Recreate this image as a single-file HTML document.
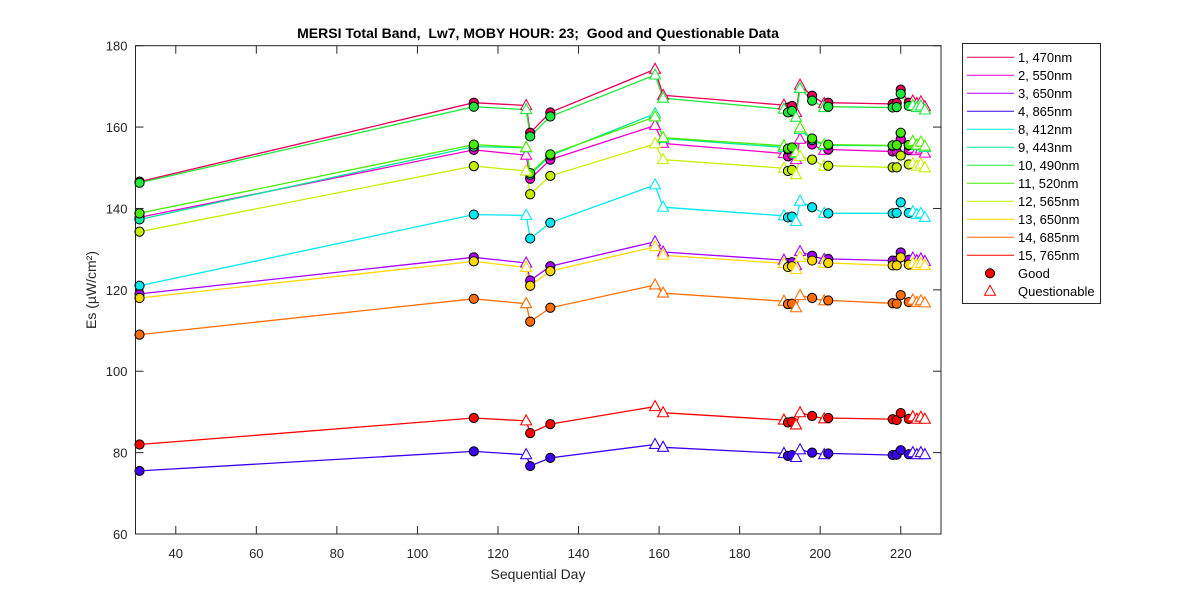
<!DOCTYPE html>
<html><head><meta charset="utf-8">
<style>
body{margin:0;background:#fff;}
svg{display:block;font-family:"Liberation Sans",Arial,sans-serif;}
</style></head>
<body>
<svg id="chart" width="1200" height="600">
<rect width="1200" height="600" fill="#fff"/>
<g id="plot"></g>
<g id="axes"></g>
<text x="538" y="38" text-anchor="middle" font-size="14" font-weight="bold" fill="#000" style="white-space:pre">MERSI Total Band,  Lw7, MOBY HOUR: 23;  Good and Questionable Data</text>
<text x="538" y="579" text-anchor="middle" font-size="14" fill="#262626">Sequential Day</text>
<text transform="translate(96,290) rotate(-90)" text-anchor="middle" font-size="14" fill="#262626">Es (µW/cm²)</text>
<g id="legend"></g>
</svg>
<script>
const days = [31,114,127,128,133,159,161,191,192,193,194,195,198,201,202,218,219,220,222,223,224,225,226];
const questionable = [0,0,1,0,0,1,1,1,0,0,1,1,0,1,0,0,0,0,0,1,1,1,1];
const bandLabels = ["1, 470nm","2, 550nm","3, 650nm","4, 865nm","8, 412nm","9, 443nm","10, 490nm","11, 520nm","12, 565nm","13, 650nm","14, 685nm","15, 765nm"];
const bandColors = ["#e8005a","#f000d0","#a600ff","#3c00f0","#00e8f0","#00e89c","#1ee83c","#48ec00","#c4f000","#ffd800","#ff6c00","#ff0000"];
const band1 = [146.6,166,165.3,158.6,163.6,174.2,167.8,165.4,164.8,165.2,163.6,170.3,167.7,165.8,166,165.7,165.9,169.2,166,166.4,165.8,166.2,165];
const band2 = [137.8,154.4,153.1,147.3,152,160.4,156,153.5,152.8,153.2,152,157,155.7,154.3,154.5,154,154,157,154.3,154.8,154.2,154.6,153.6];
const band3 = [119,128,126.6,122.3,125.8,131.8,129.3,127.3,126.6,126.8,126,129.4,128.4,127.5,127.6,127.2,127.2,129.2,127.4,127.8,127.2,127.6,127];
const band4 = [75.5,80.3,79.5,76.7,78.7,82,81.3,79.8,79.2,79.4,78.8,80.7,80,79.5,79.8,79.4,79.5,80.6,79.6,80,79.5,80,79.5];
const band8 = [121,138.5,138.3,132.6,136.5,145.8,140.3,138.2,137.8,138,136.8,141.8,140.3,138.8,138.8,138.8,138.9,141.5,138.9,139.2,138.5,138.8,137.8];
const band9 = [137.3,155.2,154.9,148.3,153,163.3,157.2,155,154.5,154.8,153.5,159.4,156.8,155.5,155.5,155.4,155.5,158.5,155.5,156.2,155.4,156,155];
const band10 = [146.3,165,164.3,157.7,162.6,172.8,167.1,164.4,163.6,164,162.4,169.5,166.5,164.8,165,164.8,164.9,168.2,165.2,165.3,164.8,165.2,164.2];
const band11 = [138.8,155.7,155,148.7,153.3,162.5,157.4,155.4,154.7,155,153.7,159.8,157.2,155.7,155.7,155.5,155.6,158.6,155.6,156.5,155.6,156.3,155.3];
const band12 = [134.3,150.4,149.2,143.5,148,155.9,152,149.9,149.2,149.5,148.3,152.8,152,150.4,150.5,150.1,150.1,153,150.8,151,150.4,150.9,150];
const band13 = [118,127,125.5,121,124.6,130.6,128.5,126.5,125.6,125.8,125,128,127.2,126.5,126.6,126,126,128,126.2,126.5,126,126.5,126];
const band14 = [109,117.8,116.6,112.2,115.6,121.2,119.2,117.2,116.5,116.6,115.6,118.6,118,117.3,117.4,116.7,116.6,118.7,117,117.5,116.9,117.3,116.8];
const band15 = [82,88.5,87.8,84.8,87,91.3,89.8,88,87.4,87.6,86.8,89.8,89,88.3,88.5,88.2,88,89.7,88.3,88.8,88.2,88.7,88.2];
const xTicks = [40,60,80,100,120,140,160,180,200,220];
const yTicks = [60,80,100,120,140,160,180];

const series = [band1,band2,band3,band4,band8,band9,band10,band11,band12,band13,band14,band15];
const X0=135.5, X1=941, Y0=534, Y1=45.7, xmin=30, xmax=230, ymin=60, ymax=180;
function xs(d){return X0+(d-xmin)/(xmax-xmin)*(X1-X0);}
function ys(v){return Y0-(v-ymin)/(ymax-ymin)*(Y0-Y1);}
const NS="http://www.w3.org/2000/svg";
function mk(tag,attrs,parent){const e=document.createElementNS(NS,tag);for(const k in attrs)e.setAttribute(k,attrs[k]);parent.appendChild(e);return e;}
const plot=document.getElementById('plot'), axes=document.getElementById('axes'), legend=document.getElementById('legend');

series.forEach((vals,i)=>{
  const pts=vals.map((v,j)=>xs(days[j]).toFixed(1)+','+ys(v).toFixed(1)).join(' ');
  const pl=mk('polyline',{points:pts,fill:'none',stroke:bandColors[i],'stroke-width':1.3},plot);
  
  
});
series.forEach((vals,i)=>{
  vals.forEach((v,j)=>{
    const cx=xs(days[j]), cy=ys(v);
    let m;
    if(questionable[j]){
      m=mk('polygon',{points:`${cx},${cy-6} ${cx-5.5},${cy+4} ${cx+5.5},${cy+4}`,fill:'#fff',stroke:bandColors[i],'stroke-width':1.1},plot);
      
    } else {
      m=mk('circle',{cx:cx,cy:cy,r:4.6,fill:bandColors[i],stroke:'#000','stroke-width':1},plot);
      
    }
    
  });
});
const box=mk('rect',{x:X0,y:Y1,width:X1-X0,height:Y0-Y1,fill:'none',stroke:'#262626','stroke-width':1},axes);


xTicks.forEach(t=>{
  const x=xs(t);
  mk('line',{x1:x,y1:Y0,x2:x,y2:Y0-8,stroke:'#262626'},axes);
  mk('line',{x1:x,y1:Y1,x2:x,y2:Y1+8,stroke:'#262626'},axes);
  const tx=mk('text',{x:x,y:Y0+24,'text-anchor':'middle','font-size':13,fill:'#262626'},axes);
  tx.textContent=t;
  
  
});
yTicks.forEach(t=>{
  const y=ys(t);
  mk('line',{x1:X0,y1:y,x2:X0+8,y2:y,stroke:'#262626'},axes);
  mk('line',{x1:X1,y1:y,x2:X1-8,y2:y,stroke:'#262626'},axes);
  const tx=mk('text',{x:X0-8,y:y+5,'text-anchor':'end','font-size':13,fill:'#262626'},axes);
  tx.textContent=t;
  
  
});
const lb=mk('rect',{x:962.5,y:43.5,width:138,height:260,fill:'#fff',stroke:'#262626','stroke-width':1},legend);


bandLabels.forEach((lab,i)=>{
  const y=57.3+i*18;
  const g=mk('g',{},legend);
  
  
  mk('line',{x1:967,y1:y,x2:1014,y2:y,stroke:bandColors[i],'stroke-width':1},g);
  const t=mk('text',{x:1018,y:y+4.5,'font-size':13,fill:'#000'},g);
  t.textContent=lab;
});
const yg=57.3+12*18, yq=57.3+13*18;
const g1=mk('g',{},legend);


mk('circle',{cx:990,cy:yg,r:4.6,fill:'#ff0000',stroke:'#000'},g1);
mk('text',{x:1018,y:yg+4.5,'font-size':13,fill:'#000'},g1).textContent='Good';
const g2=mk('g',{},legend);


mk('polygon',{points:`990,${yq-6} 984.5,${yq+4} 995.5,${yq+4}`,fill:'#fff',stroke:'#ff0000'},g2);
mk('text',{x:1018,y:yq+4.5,'font-size':13,fill:'#000'},g2).textContent='Questionable';
</script>
</body></html>
